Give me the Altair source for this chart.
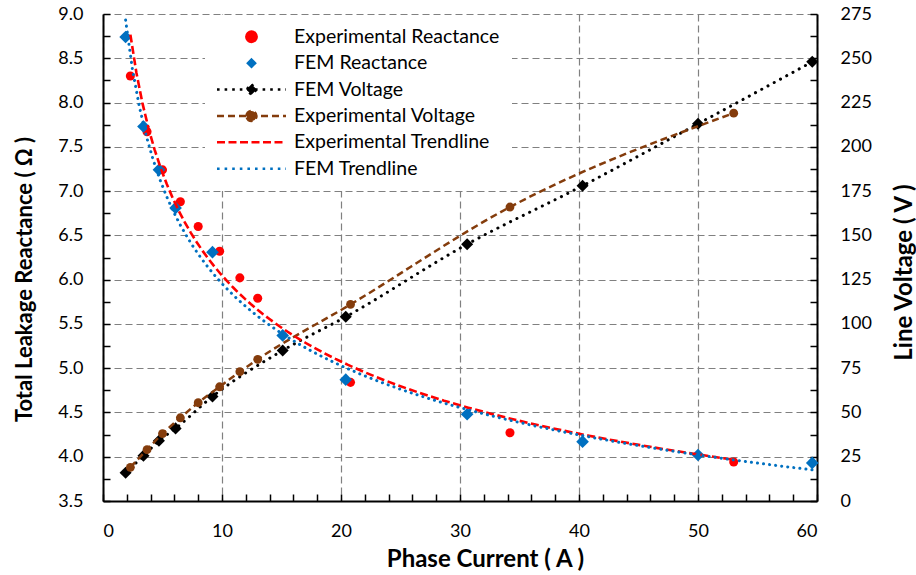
import altair as alt
import pandas as pd

FONT = "Lato"

# ---------------- data ----------------
series_names = ["Experimental Reactance", "FEM Reactance", "FEM Voltage",
                "Experimental Voltage", "Experimental Trendline", "FEM Trendline"]
series_colors = ["#ff0000", "#0070c0", "#000000", "#843c0c", "#ff0000", "#0070c0"]

exp_current = [2.3, 3.7, 5.0, 6.5, 8.0, 9.8, 11.5, 13.0, 20.8, 34.2, 53.0]
exp_reactance = [8.30, 7.67, 7.24, 6.88, 6.60, 6.32, 6.02, 5.79, 4.84, 4.27, 3.94]
exp_voltage = [19, 29, 38, 47, 55.5, 64.5, 73, 80, 111, 166, 219]

fem_current = [1.9, 3.4, 4.7, 6.1, 9.2, 15.1, 20.4, 30.6, 40.3, 50.0, 59.6]
fem_reactance = [8.74, 7.73, 7.24, 6.81, 6.31, 5.37, 4.87, 4.48, 4.17, 4.02, 3.93]
fem_voltage = [16, 25.5, 34, 41, 59, 85, 104, 145, 178, 213, 248]

# tick positions (labels only on the major ones)
x_ticks = list(range(0, 61, 2))
yl_ticks = [3.5 + 0.25 * k for k in range(23)]
yr_ticks = [12.5 * k for k in range(23)]

df_er = pd.DataFrame({"i": exp_current, "r": exp_reactance, "series": series_names[0]})
df_fr = pd.DataFrame({"i": fem_current, "r": fem_reactance, "series": series_names[1]})
df_fv = pd.DataFrame({"i": fem_current, "v": fem_voltage, "series": series_names[2]})
df_ev = pd.DataFrame({"i": exp_current, "v": exp_voltage, "series": series_names[3]})

W, H = 714, 487

# ---------------- scales ----------------
x_scale = alt.Scale(domain=[0, 60], nice=False, zero=False)
yl_scale = alt.Scale(domain=[3.5, 9.0], nice=False, zero=False)
yr_scale = alt.Scale(domain=[0, 275], nice=False, zero=False)
color_scale = alt.Scale(domain=series_names, range=series_colors)

X_MAJOR = "datum.value % 10 === 0"
YL_MAJOR = "abs(datum.value * 2 - round(datum.value * 2)) < 0.001"
YR_MAJOR = "datum.value % 25 === 0"

COMMON = dict(domain=True, domainColor="black", domainWidth=2,
              ticks=True, tickSize={"expr": "-7"}, tickWidth=1.5, tickColor="black",
              labelFont=FONT, labelFontSize=18, labelColor="black",
              titleFont=FONT, titleFontWeight="bold", titleColor="black")


def grid_for(test):
    return dict(grid=True, gridDash=[7, 4], gridColor="#808080", gridWidth=1.2,
                gridOpacity={"condition": {"test": test, "value": 1}, "value": 0})


x_axis = alt.Axis(orient="bottom", values=x_ticks, format="d",
                  labelExpr=f"{X_MAJOR} ? datum.label : ''", labelPadding=28,
                  title="Phase Current ( A )", titleFontSize=24,
                  titleX=382, titleY=65, titleBaseline="alphabetic",
                  **COMMON, **grid_for(X_MAJOR))

yl_axis = alt.Axis(orient="left", values=yl_ticks, format=".1f",
                   labelExpr=f"{YL_MAJOR} ? datum.label : ''", labelPadding=27,
                   title="Total Leakage Reactance ( Ω )", titleFontSize=22,
                   titleX=-72, titleY={"expr": "265"}, titleBaseline="alphabetic",
                   **COMMON, **grid_for(YL_MAJOR))

yr_axis = alt.Axis(orient="right", values=yr_ticks, format="d",
                   labelExpr=f"{YR_MAJOR} ? datum.label : ''", labelPadding=30,
                   title="Line Voltage ( V )", titleFontSize=24, titleAngle=270,
                   titleX=94, titleY={"expr": "258"}, titleBaseline="alphabetic",
                   grid=False, **COMMON)

# ---------------- legend ----------------
U = 8.0          # pixels per path unit (sqrt(symbolSize) / 2)
C0 = 9.75        # symbol centre inside the legend entry


def px(v):
    return round((v - C0) / U, 3)


def circ(cx, r):
    a, b, rr = px(cx) - r / U, px(cx) + r / U, r / U
    return f"M{a:.3f},0A{rr:.3f},{rr:.3f},0,1,1,{b:.3f},0A{rr:.3f},{rr:.3f},0,1,1,{a:.3f},0Z"


def diam(cx, r):
    c, rr = px(cx), r / U
    return f"M{c:.3f},{-rr:.3f}L{c + rr:.3f},0L{c:.3f},{rr:.3f}L{c - rr:.3f},0Z"


LINE = f"M{px(0)},0L{px(69)},0"
legend_paths = [circ(34.5, 5.2), diam(34.5, 3.6), LINE + diam(34.5, 5.2),
                LINE + circ(34.5, 5.0), LINE, LINE]
legend_dashes = ["[]", "[]", "[2.6,5]", "[7,4]", "[8,3.5]", "[2.6,5]"]


def ternary(values, quote):
    expr = ("'" + values[-1] + "'") if quote else values[-1]
    for name, v in reversed(list(zip(series_names[:-1], values[:-1]))):
        val = ("'" + v + "'") if quote else v
        expr = f"datum.value === '{name}' ? {val} : ({expr})"
    return expr


legend = alt.Legend(
    title=None, orient="none", legendX=102, legendY=1, direction="vertical",
    fillColor="white", padding=12, symbolSize=256, symbolStrokeWidth=2.5,
    labelFont=FONT, labelFontSize=19.5, labelColor="black", labelOffset=57.5,
    labelLimit=400, rowPadding=5.4, symbolOpacity=1,
    symbolType={"expr": ternary(legend_paths, True)},
    symbolDash={"expr": ternary(legend_dashes, False)},
    symbolFillColor={"expr": "scale('color', datum.value)"},
    symbolStrokeColor={"expr": "scale('color', datum.value)"},
)

color = alt.Color("series:N", scale=color_scale, legend=legend)

# ---------------- reactance points ----------------
xr = alt.X("i:Q", scale=x_scale, axis=x_axis)
yr_ax = alt.Y("r:Q", scale=yl_scale, axis=yl_axis)

exp_pts = alt.Chart(df_er).mark_point(filled=True, shape="circle", size=82, opacity=1).encode(
    x=xr, y=yr_ax, color=color)
fem_pts = alt.Chart(df_fr).mark_point(filled=True, shape="diamond", size=160, opacity=1).encode(
    x=xr, y=yr_ax, color=color)
react_group = alt.layer(exp_pts, fem_pts)

# ---------------- voltage ----------------
xn = alt.X("i:Q", scale=x_scale, axis=None)
yv = alt.Y("v:Q", scale=yr_scale, axis=yr_axis)

fem_v_line = alt.Chart(df_fv).mark_line(strokeDash=[0.1, 7], strokeCap="round", strokeWidth=3,
                                        interpolate="monotone").encode(x=xn, y=yv, color=color)
fem_v_pts = alt.Chart(df_fv).mark_point(filled=True, shape="diamond", size=145, opacity=1).encode(
    x=xn, y=yv, color=color)
exp_v_line = alt.Chart(df_ev).mark_line(strokeDash=[7, 4], strokeWidth=2.5,
                                        interpolate="monotone").encode(x=xn, y=yv, color=color)
exp_v_pts = alt.Chart(df_ev).mark_point(filled=True, shape="circle", size=78, opacity=1).encode(
    x=xn, y=yv, color=color)
volt_group = alt.layer(fem_v_line, fem_v_pts, exp_v_line, exp_v_pts)

# ---------------- trendlines (power fits of the data) ----------------
yt = alt.Y("r:Q", scale=yl_scale, axis=None)
exp_trend = alt.Chart(df_er).transform_regression("i", "r", method="pow").transform_calculate(
    series="'Experimental Trendline'").mark_line(strokeDash=[8, 3.5], strokeWidth=2.6).encode(
    x=xn, y=yt, color=color)
fem_trend = alt.Chart(df_fr).transform_regression("i", "r", method="pow").transform_calculate(
    series="'FEM Trendline'").mark_line(strokeDash=[0.1, 6], strokeCap="round", strokeWidth=3).encode(
    x=xn, y=yt, color=color)
trend_group = alt.layer(exp_trend, fem_trend)

chart = alt.layer(react_group, volt_group, trend_group).resolve_scale(
    y="independent").resolve_axis(x="independent", y="independent").properties(
    width=W, height=H,
    autosize=alt.AutoSizeParams(type="none"),
    padding={"left": 103, "top": 14, "right": 99, "bottom": 74},
    background="white",
).configure_view(stroke="transparent")

chart.save("out.html", embed_options={"renderer": "svg", "actions": False})
